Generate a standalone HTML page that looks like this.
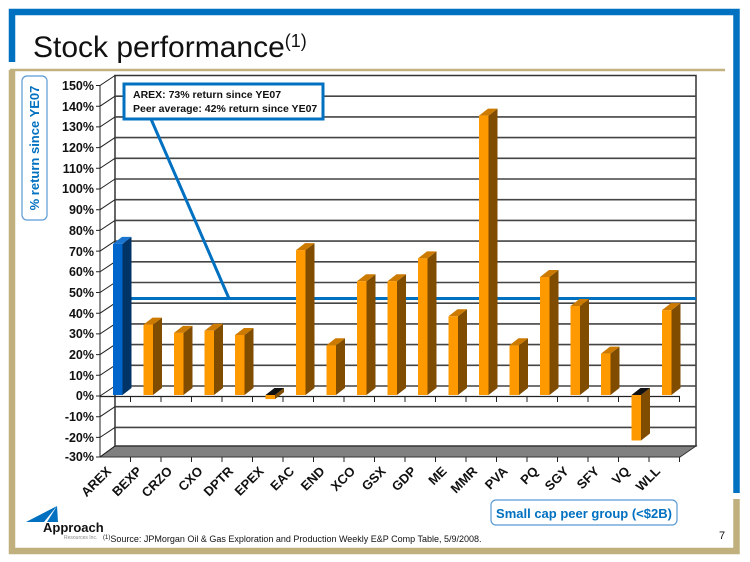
<!DOCTYPE html>
<html><head><meta charset="utf-8"><style>
html,body{margin:0;padding:0;background:#fff;}
svg{display:block;font-family:"Liberation Sans",sans-serif;}
</style></head><body>
<svg width="750" height="562" viewBox="0 0 750 562" xmlns="http://www.w3.org/2000/svg">
<path d="M12 62 V12 H736.5 V493" fill="none" stroke="#0070c0" stroke-width="6.5"/>
<line x1="10" y1="70" x2="725" y2="70" stroke="#c2b280" stroke-width="2.5"/>
<path d="M12 70 V551 H736.5 V499" fill="none" stroke="#bfb07e" stroke-width="6.5"/>
<text x="33" y="57" font-size="30" fill="#111">Stock performance<tspan font-size="18" dy="-10">(1)</tspan></text>

<rect x="22" y="76" width="25" height="144" rx="5" fill="#fff" stroke="#5b9bd5" stroke-width="1.2"/>
<text transform="translate(39,148) rotate(-90)" text-anchor="middle" font-size="13" font-weight="bold" fill="#0070c0">% return since YE07</text>

<polygon points="100,457 680,457 696,446 115,446" fill="#808080" stroke="#333" stroke-width="1"/>
<rect x="115" y="75.5" width="581" height="370.5" fill="#fff" stroke="#333" stroke-width="1.5"/>
<g stroke="#444" stroke-width="1.6">
<line x1="115" y1="96.2" x2="696" y2="96.2"/>
<line x1="115" y1="116.9" x2="696" y2="116.9"/>
<line x1="115" y1="137.6" x2="696" y2="137.6"/>
<line x1="115" y1="158.3" x2="696" y2="158.3"/>
<line x1="115" y1="179" x2="696" y2="179"/>
<line x1="115" y1="199.7" x2="696" y2="199.7"/>
<line x1="115" y1="220.4" x2="696" y2="220.4"/>
<line x1="115" y1="241.1" x2="696" y2="241.1"/>
<line x1="115" y1="261.8" x2="696" y2="261.8"/>
<line x1="115" y1="282.5" x2="696" y2="282.5"/>
<line x1="115" y1="303.2" x2="696" y2="303.2"/>
<line x1="115" y1="323.9" x2="696" y2="323.9"/>
<line x1="115" y1="344.6" x2="696" y2="344.6"/>
<line x1="115" y1="365.3" x2="696" y2="365.3"/>
<line x1="115" y1="386" x2="696" y2="386"/>
<line x1="115" y1="406.7" x2="696" y2="406.7"/>
<line x1="115" y1="427.4" x2="696" y2="427.4"/>
</g>
<g stroke="#222" stroke-width="1" fill="none">
<line x1="100" y1="85.5" x2="100" y2="457"/>
<path d="M96 85.5H100L115 75.5 M96 106.2H100L115 96.2 M96 126.9H100L115 116.9 M96 147.6H100L115 137.6 M96 168.3H100L115 158.3 M96 189H100L115 179 M96 209.7H100L115 199.7 M96 230.4H100L115 220.4 M96 251.1H100L115 241.1 M96 271.8H100L115 261.8 M96 292.5H100L115 282.5 M96 313.2H100L115 303.2 M96 333.9H100L115 323.9 M96 354.6H100L115 344.6 M96 375.3H100L115 365.3 M96 396H100L115 386 M96 416.7H100L115 406.7 M96 437.4H100L115 427.4 M96 457H100L115 446"/>
</g>
<g font-size="12.5" font-weight="bold" fill="#111" text-anchor="end">
<text x="94" y="90">150%</text><text x="94" y="111">140%</text><text x="94" y="131">130%</text><text x="94" y="152">120%</text><text x="94" y="173">110%</text><text x="94" y="193">100%</text><text x="94" y="214">90%</text><text x="94" y="235">80%</text><text x="94" y="256">70%</text><text x="94" y="276">60%</text><text x="94" y="297">50%</text><text x="94" y="318">40%</text><text x="94" y="338">30%</text><text x="94" y="359">20%</text><text x="94" y="380">10%</text><text x="94" y="400">0%</text><text x="94" y="421">-10%</text><text x="94" y="442">-20%</text><text x="94" y="461">-30%</text>
</g>
<line x1="100" y1="396.5" x2="680" y2="396.5" stroke="#222" stroke-width="1.3"/>
<path d="M130.5 396v6 M161 396v6 M191.5 396v6 M222 396v6 M252.5 396v6 M283 396v6 M313.5 396v6 M344 396v6 M374.5 396v6 M405 396v6 M435.5 396v6 M466 396v6 M496.5 396v6 M527 396v6 M557.5 396v6 M588 396v6 M618.5 396v6 M649 396v6 M679.5 396v6" stroke="#222"/>
<path d="M130.5 457v5 M161 457v5 M191.5 457v5 M222 457v5 M252.5 457v5 M283 457v5 M313.5 457v5 M344 457v5 M374.5 457v5 M405 457v5 M435.5 457v5 M466 457v5 M496.5 457v5 M527 457v5 M557.5 457v5 M588 457v5 M618.5 457v5 M649 457v5 M679.5 457v5" stroke="#222"/>

<line x1="131" y1="298.5" x2="696" y2="298.5" stroke="#0070c0" stroke-width="3"/>
<line x1="151" y1="119" x2="229" y2="298.5" stroke="#0070c0" stroke-width="3"/>

<g transform="translate(113,0)"><polygon points="9.5,243.9 18.5,236.9 18.5,388 9.5,395" fill="#003366"/><polygon points="0,243.9 9,236.9 18.5,236.9 9.5,243.9" fill="#1a75d1"/><rect x="0" y="243.9" width="9.5" height="151.1" fill="#0066cc"/></g>
<g transform="translate(143.5,0)"><polygon points="9.5,324.6 18.5,317.6 18.5,388 9.5,395" fill="#7f4c00"/><polygon points="0,324.6 9,317.6 18.5,317.6 9.5,324.6" fill="#cc7a00"/><rect x="0" y="324.6" width="9.5" height="70.4" fill="#ff9900"/></g>
<g transform="translate(174,0)"><polygon points="9.5,332.9 18.5,325.9 18.5,388 9.5,395" fill="#7f4c00"/><polygon points="0,332.9 9,325.9 18.5,325.9 9.5,332.9" fill="#cc7a00"/><rect x="0" y="332.9" width="9.5" height="62.1" fill="#ff9900"/></g>
<g transform="translate(204.5,0)"><polygon points="9.5,330.8 18.5,323.8 18.5,388 9.5,395" fill="#7f4c00"/><polygon points="0,330.8 9,323.8 18.5,323.8 9.5,330.8" fill="#cc7a00"/><rect x="0" y="330.8" width="9.5" height="64.2" fill="#ff9900"/></g>
<g transform="translate(235,0)"><polygon points="9.5,335 18.5,328 18.5,388 9.5,395" fill="#7f4c00"/><polygon points="0,335 9,328 18.5,328 9.5,335" fill="#cc7a00"/><rect x="0" y="335" width="9.5" height="60" fill="#ff9900"/></g>
<g transform="translate(265.5,0)"><polygon points="9.5,395 18.5,388 18.5,392.1 9.5,399.1" fill="#7f4c00"/><polygon points="0,395 9,388 18.5,388 9.5,395" fill="#111"/><rect x="0" y="395" width="9.5" height="4.1" fill="#ff9900"/></g>
<g transform="translate(296,0)"><polygon points="9.5,250.1 18.5,243.1 18.5,388 9.5,395" fill="#7f4c00"/><polygon points="0,250.1 9,243.1 18.5,243.1 9.5,250.1" fill="#cc7a00"/><rect x="0" y="250.1" width="9.5" height="144.9" fill="#ff9900"/></g>
<g transform="translate(326.5,0)"><polygon points="9.5,345.3 18.5,338.3 18.5,388 9.5,395" fill="#7f4c00"/><polygon points="0,345.3 9,338.3 18.5,338.3 9.5,345.3" fill="#cc7a00"/><rect x="0" y="345.3" width="9.5" height="49.7" fill="#ff9900"/></g>
<g transform="translate(357,0)"><polygon points="9.5,281.2 18.5,274.2 18.5,388 9.5,395" fill="#7f4c00"/><polygon points="0,281.2 9,274.2 18.5,274.2 9.5,281.2" fill="#cc7a00"/><rect x="0" y="281.2" width="9.5" height="113.8" fill="#ff9900"/></g>
<g transform="translate(387.5,0)"><polygon points="9.5,281.2 18.5,274.2 18.5,388 9.5,395" fill="#7f4c00"/><polygon points="0,281.2 9,274.2 18.5,274.2 9.5,281.2" fill="#cc7a00"/><rect x="0" y="281.2" width="9.5" height="113.8" fill="#ff9900"/></g>
<g transform="translate(418,0)"><polygon points="9.5,258.4 18.5,251.4 18.5,388 9.5,395" fill="#7f4c00"/><polygon points="0,258.4 9,251.4 18.5,251.4 9.5,258.4" fill="#cc7a00"/><rect x="0" y="258.4" width="9.5" height="136.6" fill="#ff9900"/></g>
<g transform="translate(448.5,0)"><polygon points="9.5,316.3 18.5,309.3 18.5,388 9.5,395" fill="#7f4c00"/><polygon points="0,316.3 9,309.3 18.5,309.3 9.5,316.3" fill="#cc7a00"/><rect x="0" y="316.3" width="9.5" height="78.7" fill="#ff9900"/></g>
<g transform="translate(479,0)"><polygon points="9.5,115.6 18.5,108.6 18.5,388 9.5,395" fill="#7f4c00"/><polygon points="0,115.6 9,108.6 18.5,108.6 9.5,115.6" fill="#cc7a00"/><rect x="0" y="115.6" width="9.5" height="279.4" fill="#ff9900"/></g>
<g transform="translate(509.5,0)"><polygon points="9.5,345.3 18.5,338.3 18.5,388 9.5,395" fill="#7f4c00"/><polygon points="0,345.3 9,338.3 18.5,338.3 9.5,345.3" fill="#cc7a00"/><rect x="0" y="345.3" width="9.5" height="49.7" fill="#ff9900"/></g>
<g transform="translate(540,0)"><polygon points="9.5,277 18.5,270 18.5,388 9.5,395" fill="#7f4c00"/><polygon points="0,277 9,270 18.5,270 9.5,277" fill="#cc7a00"/><rect x="0" y="277" width="9.5" height="118" fill="#ff9900"/></g>
<g transform="translate(570.5,0)"><polygon points="9.5,306 18.5,299 18.5,388 9.5,395" fill="#7f4c00"/><polygon points="0,306 9,299 18.5,299 9.5,306" fill="#cc7a00"/><rect x="0" y="306" width="9.5" height="89" fill="#ff9900"/></g>
<g transform="translate(601,0)"><polygon points="9.5,353.6 18.5,346.6 18.5,388 9.5,395" fill="#7f4c00"/><polygon points="0,353.6 9,346.6 18.5,346.6 9.5,353.6" fill="#cc7a00"/><rect x="0" y="353.6" width="9.5" height="41.4" fill="#ff9900"/></g>
<g transform="translate(631.5,0)"><polygon points="9.5,395 18.5,388 18.5,433.5 9.5,440.5" fill="#7f4c00"/><polygon points="0,395 9,388 18.5,388 9.5,395" fill="#111"/><rect x="0" y="395" width="9.5" height="45.5" fill="#ff9900"/></g>
<g transform="translate(662,0)"><polygon points="9.5,310.1 18.5,303.1 18.5,388 9.5,395" fill="#7f4c00"/><polygon points="0,310.1 9,303.1 18.5,303.1 9.5,310.1" fill="#cc7a00"/><rect x="0" y="310.1" width="9.5" height="84.9" fill="#ff9900"/></g>

<g font-size="13" font-weight="bold" fill="#111" text-anchor="end">
<text transform="translate(112,472) rotate(-45)">AREX</text>
<text transform="translate(142.5,472) rotate(-45)">BEXP</text>
<text transform="translate(173,472) rotate(-45)">CRZO</text>
<text transform="translate(203.5,472) rotate(-45)">CXO</text>
<text transform="translate(234,472) rotate(-45)">DPTR</text>
<text transform="translate(264.5,472) rotate(-45)">EPEX</text>
<text transform="translate(295,472) rotate(-45)">EAC</text>
<text transform="translate(325.5,472) rotate(-45)">END</text>
<text transform="translate(356,472) rotate(-45)">XCO</text>
<text transform="translate(386.5,472) rotate(-45)">GSX</text>
<text transform="translate(417,472) rotate(-45)">GDP</text>
<text transform="translate(447.5,472) rotate(-45)">ME</text>
<text transform="translate(478,472) rotate(-45)">MMR</text>
<text transform="translate(508.5,472) rotate(-45)">PVA</text>
<text transform="translate(539,472) rotate(-45)">PQ</text>
<text transform="translate(569.5,472) rotate(-45)">SGY</text>
<text transform="translate(600,472) rotate(-45)">SFY</text>
<text transform="translate(630.5,472) rotate(-45)">VQ</text>
<text transform="translate(661,472) rotate(-45)">WLL</text>
</g>

<rect x="124" y="84" width="199" height="35" fill="#fff" stroke="#0070c0" stroke-width="3"/>
<text x="133" y="98" font-size="10.5" font-weight="bold" fill="#111">AREX: 73% return since YE07</text>
<text x="133" y="112" font-size="10.5" font-weight="bold" fill="#111">Peer average: 42% return since YE07</text>

<rect x="491" y="500" width="186" height="25" rx="5" fill="#fff" stroke="#5b9bd5" stroke-width="1.2"/>
<text x="584" y="518" text-anchor="middle" font-size="13" font-weight="bold" fill="#0070c0">Small cap peer group (&lt;$2B)</text>

<polygon points="26,522 57,506 44,522" fill="#0070c0"/>
<polygon points="47,522 57,506 58,522" fill="#0070c0"/>
<text x="43" y="532" font-size="13" font-weight="bold" fill="#111">Approach</text>
<text x="64" y="539" font-size="5" fill="#888">Resources Inc.</text>
<text x="103" y="542" font-size="9" fill="#111"><tspan font-size="6" dy="-3">(1)</tspan><tspan dy="3">Source: JPMorgan Oil &amp; Gas Exploration and Production Weekly E&amp;P Comp Table, 5/9/2008.</tspan></text>
<text x="719" y="539" font-size="11" fill="#111">7</text>
</svg>
</body></html>
